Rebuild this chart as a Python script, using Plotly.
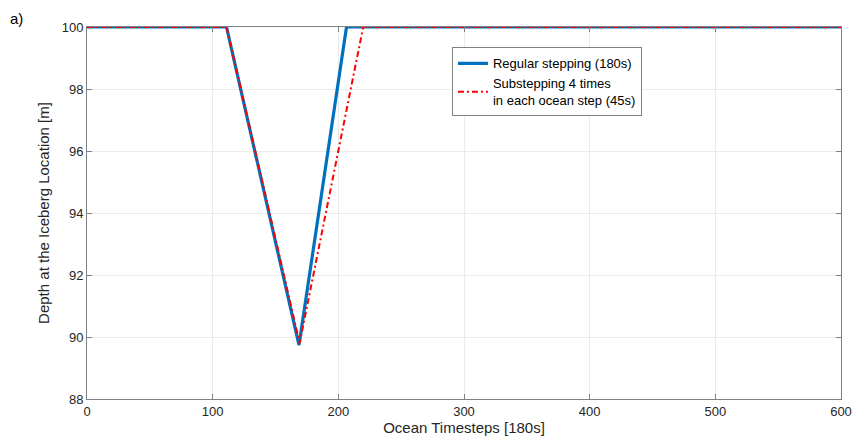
import plotly.graph_objects as go

# Iceberg depth vs ocean timestep for two stepping schemes
regular_t = [0, 111, 168.7, 206.5, 600]
regular_depth = [100, 100, 89.74, 100, 100]

substep_t = [0, 111, 169.2, 194, 219.8, 600]
substep_depth = [100, 100, 89.8, 94.8, 100, 100]

x_ticks = [0, 100, 200, 300, 400, 500, 600]
y_ticks = [88, 90, 92, 94, 96, 98, 100]

fig = go.Figure()
fig.add_trace(go.Scatter(
    x=regular_t, y=regular_depth, mode="lines",
    name="Regular stepping (180s)",
    line=dict(color="#0072BD", width=3.2),
))
fig.add_trace(go.Scatter(
    x=substep_t, y=substep_depth, mode="lines",
    name="Substepping 4 times<br>in each ocean step (45s)",
    line=dict(color="#FF0000", width=2, dash="6px,3px,2px,3px"),
))

axis_common = dict(
    showline=True, linecolor="#808080", linewidth=1, mirror="ticks",
    ticks="inside", ticklen=5, tickcolor="#808080",
    showgrid=True, gridcolor="#ebebeb", gridwidth=1, zeroline=False,
    tickfont=dict(family="Liberation Sans, Arial", size=13, color="#262626"),
    automargin=False,
)

# plot-area pixel box, used to place the panel label in paper coordinates
W, H = 855, 440
ML, MR, MT, MB = 87, 14, 27, 41

fig.update_layout(
    width=W, height=H,
    margin=dict(l=ML, r=MR, t=MT, b=MB),
    paper_bgcolor="white", plot_bgcolor="white",
    font=dict(family="Liberation Sans, Arial", color="#262626"),
    xaxis=dict(range=[0, 600], tickvals=x_ticks,
               title=dict(text="Ocean Timesteps [180s]", font=dict(size=15), standoff=2),
               **axis_common),
    yaxis=dict(range=[88, 100], tickvals=y_ticks,
               title=dict(text="Depth at the Iceberg Location [m]", font=dict(size=15), standoff=8),
               **axis_common),
    legend=dict(
        x=0.484, y=0.945, xanchor="left", yanchor="top",
        bgcolor="white", bordercolor="#808080", borderwidth=1,
        font=dict(size=13, color="#000000"), tracegroupgap=18,
    ),
    showlegend=True,
    annotations=[dict(text="a)",
                      x=(8 - ML) / (W - ML - MR), y=(H - 18 - MB) / (H - MT - MB),
                      xref="paper", yref="paper",
                      xanchor="left", yanchor="middle", showarrow=False,
                      font=dict(size=15, color="#000000"))],
)

fig.write_html("out.html")
